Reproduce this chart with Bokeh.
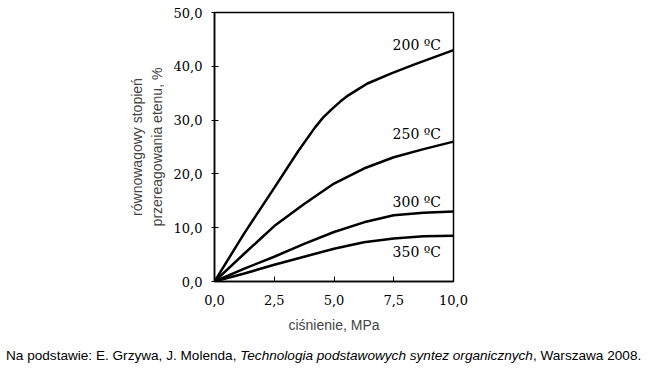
from bokeh.plotting import figure
from bokeh.models import FixedTicker, CustomJSTickFormatter, Label, Range1d, Div
from bokeh.layouts import column
from bokeh.embed import file_html
from bokeh.resources import INLINE

pressure = [0, 1.25, 2.5, 3.75, 5.0, 6.25, 7.5, 8.75, 10.0]
p200 = [0, 1.25, 2.5, 3.5, 4.2, 4.55, 4.9, 5.25, 5.6, 6.0, 6.4, 7.4, 8.4, 9.2, 10.0]
t200 = [0, 9.0, 17.4, 24.2, 28.6, 30.5, 32.0, 33.4, 34.6, 35.7, 36.8, 38.7, 40.4, 41.7, 43.0]
t250 = [0, 5.2, 10.3, 14.4, 18.2, 21.0, 23.1, 24.6, 26.0]
t300 = [0, 2.4, 4.6, 7.0, 9.2, 11.0, 12.3, 12.8, 13.0]
t350 = [0, 1.5, 3.1, 4.6, 6.1, 7.3, 8.0, 8.4, 8.5]
series = [("200 ºC", p200, t200, 44.0), ("250 ºC", pressure, t250, 27.4),
          ("300 ºC", pressure, t300, 14.8), ("350 ºC", pressure, t350, 5.5)]
x_ticks = [0, 2.5, 5.0, 7.5, 10.0]
y_ticks = [0, 10, 20, 30, 40, 50]

p = figure(width=646, height=340, output_backend="svg", toolbar_location=None,
           x_range=Range1d(0, 10), y_range=Range1d(0, 50),
           min_border_left=214, min_border_right=193, min_border_top=12, min_border_bottom=59)
p.grid.visible = False
p.outline_line_color = "black"
p.outline_line_width = 1.5

fmt = CustomJSTickFormatter(code="return tick.toFixed(1).replace('.', ',');")
for ax, ticks in ((p.xaxis, x_ticks), (p.yaxis, y_ticks)):
    ax.ticker = FixedTicker(ticks=ticks)
    ax.formatter = fmt
    ax.minor_tick_line_color = None
    ax.axis_line_width = 1.5
    ax.major_tick_line_width = 1
    ax.major_label_text_font = "DejaVu Serif"
    ax.major_label_text_font_size = "13px"
    ax.major_label_text_color = "black"

p.xaxis.major_tick_in = 5
p.xaxis.major_tick_out = 0
p.yaxis.major_tick_in = 4
p.yaxis.major_tick_out = 3
p.xaxis.major_label_standoff = 13
p.yaxis.major_label_standoff = 9

p.xaxis.axis_label = "ciśnienie, MPa"
p.xaxis.axis_label_text_font = "Liberation Sans"
p.xaxis.axis_label_text_font_style = "normal"
p.xaxis.axis_label_text_font_size = "14px"
p.xaxis.axis_label_standoff = 9

p.yaxis.axis_label = "równowagowy stopień\nprzereagowania etenu, %"
p.yaxis.axis_label_text_font = "Liberation Sans"
p.yaxis.axis_label_text_font_style = "normal"
p.yaxis.axis_label_text_font_size = "14px"
p.yaxis.axis_label_standoff = 6

for name, xs, vals, ly in series:
    p.line(xs, vals, line_color="black", line_width=2.5)
    p.add_layout(Label(x=9.48, y=ly, text=name, text_align="right", text_baseline="middle",
                       text_font="DejaVu Serif", text_font_size="14px", text_color="black"))

footer = Div(text="Na podstawie: E. Grzywa, J. Molenda, <i>Technologia podstawowych syntez organicznych</i>, Warszawa 2008.",
             width=646, height=25, margin=(6, 0, 0, 6),
             styles={"font-family": "Liberation Sans", "font-size": "13.6px", "color": "black"})

layout = column(p, footer)
open("out.html", "w").write(file_html(layout, INLINE))
